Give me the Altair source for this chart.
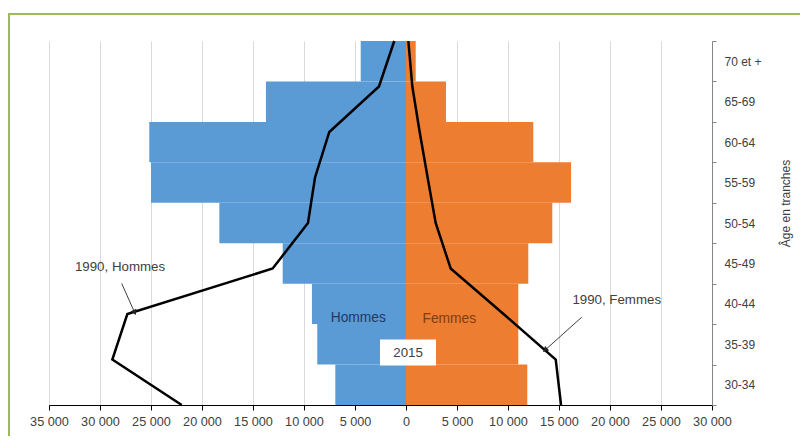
import altair as alt
import pandas as pd

# ---- data ----
ages = ["30-34", "35-39", "40-44", "45-49", "50-54", "55-59", "60-64", "65-69", "70 et +"]
hommes_2015 = [6930, 8700, 9220, 12090, 18300, 25000, 25170, 13730, 4440]
femmes_2015 = [11890, 11010, 11010, 11990, 14340, 16180, 12480, 3920, 950]
hommes_1990 = [21990, 28790, 27320, 13070, 9610, 8920, 7520, 2650, 1150]
femmes_1990 = [15200, 14680, 9560, 4380, 2910, 2120, 1340, 620, 230]
x_ticks = list(range(-35000, 30001, 5000))

FONT = "Liberation Sans, Arial, sans-serif"
ages_top = list(reversed(ages))

bars_df = pd.DataFrame({
    "age": ages * 2,
    "sexe": ["Hommes"] * len(ages) + ["Femmes"] * len(ages),
    "debut": [-v for v in hommes_2015] + [0] * len(ages),
    "fin": [0] * len(ages) + femmes_2015,
})

lines_df = pd.DataFrame({
    "age": ages * 2,
    "idx": list(range(len(ages))) * 2,
    "serie": ["1990, Hommes"] * len(ages) + ["1990, Femmes"] * len(ages),
    "valeur": [-v for v in hommes_1990] + femmes_1990,
})

# annotations, y in age-step units (0 = 30-34, 8 = 70 et +)
texts_df = pd.DataFrame({
    "t": ["1990, Hommes", "1990, Femmes", "Hommes", "Femmes", "2015"],
    "x": [-28040, 20660, -4680, 4250, 200],
    "u": [3.04, 2.31, 1.91, 1.88, 1.15],
    "c": ["#404040", "#404040", "#1F3864", "#843C0C", "#404040"],
    "s": [13.3, 13.3, 13.8, 13.8, 13.3],
})
arrows_df = pd.DataFrame({
    "x": [-27870, 17230], "u": [2.67, 1.93],
    "x2": [-26640, 13700], "u2": [2.05, 1.22],
    "a": [156, 228],
})
box_df = pd.DataFrame({"x": [-2550], "x2": [2940], "u": [1.44], "u2": [0.87]})

x_axis = alt.Axis(
    values=x_ticks,
    labelExpr="replace(format(abs(datum.value), ','), ',', ' ')",
    labelOverlap=False, labelFlush=False,
    grid=True, gridColor="#D9D9D9", gridWidth=1,
    domainColor="#000000", domainWidth=1.2,
    tickColor="#000000", tickSize=5,
    labelColor="#404040", labelFont=FONT, labelFontSize=12.7, labelPadding=5,
    title=None,
)
x_scale = alt.Scale(domain=[-35000, 30000], nice=False, zero=False)
u_scale = alt.Scale(domain=[0, 8], nice=False, zero=False)

border = alt.Chart(alt.Data(values=[{}])).mark_rect(
    fillOpacity=0, stroke="#9BBB59", strokeWidth=2
).encode(
    x=alt.value(-40), x2=alt.value(780), y=alt.value(-27), y2=alt.value(430)
)

bars = alt.Chart(bars_df).mark_bar().encode(
    x=alt.X("debut:Q", scale=x_scale, axis=x_axis),
    x2="fin:Q",
    y=alt.Y("age:N", sort=ages_top,
            scale=alt.Scale(domain=ages_top, paddingInner=0, paddingOuter=0),
            axis=alt.Axis(orient="right", title="Âge en tranches",
                          titleAngle=270, titleX=73, titleY=162,
                          titleAlign="center", titleBaseline="middle",
                          titleFont=FONT, titleFontSize=12, titleFontWeight="normal",
                          titleColor="#404040",
                          labelAlign="left", labelPadding=8, labelFont=FONT,
                          labelFontSize=12, labelColor="#404040",
                          tickSize=4, tickBand="extent",
                          domainColor="#868686", tickColor="#868686")),
    color=alt.Color("sexe:N", scale=alt.Scale(domain=["Hommes", "Femmes"],
                                              range=["#5B9BD5", "#ED7D31"]),
                    legend=None),
)

lines = alt.Chart(lines_df).mark_line(color="black", strokeWidth=2.5).encode(
    x=alt.X("valeur:Q", scale=x_scale, axis=x_axis),
    y=alt.Y("age:N", sort=ages_top,
            scale=alt.Scale(type="point", domain=ages_top, padding=0), axis=None),
    detail="serie:N",
    order="idx:Q",
)

box = alt.Chart(box_df).mark_rect(color="white").encode(
    x=alt.X("x:Q", scale=x_scale, axis=x_axis), x2="x2:Q",
    y=alt.Y("u:Q", scale=u_scale, axis=None), y2="u2:Q",
)
texts = alt.Chart(texts_df).mark_text(font=FONT, baseline="middle", align="center").encode(
    x=alt.X("x:Q", scale=x_scale, axis=x_axis),
    y=alt.Y("u:Q", scale=u_scale, axis=None),
    text="t:N",
    color=alt.Color("c:N", scale=None),
    size=alt.Size("s:Q", scale=None),
)
rules = alt.Chart(arrows_df).mark_rule(color="#404040", strokeWidth=1).encode(
    x=alt.X("x:Q", scale=x_scale, axis=x_axis), x2="x2:Q",
    y=alt.Y("u:Q", scale=u_scale, axis=None), y2="u2:Q",
)
heads = alt.Chart(arrows_df).mark_point(shape="triangle", filled=True, size=40,
                                        color="#202020", opacity=1).encode(
    x=alt.X("x2:Q", scale=x_scale, axis=x_axis),
    y=alt.Y("u2:Q", scale=u_scale, axis=None),
    angle=alt.Angle("a:Q", scale=None),
)
annot = alt.layer(box, texts, rules, heads)

chart = alt.layer(border, bars, lines, annot).resolve_scale(
    y="independent"
).properties(
    width=663, height=364,
    autosize=alt.AutoSizeParams(type="none"),
    padding={"left": 41, "top": 33, "right": 88, "bottom": 31},
).configure_view(stroke=None)

chart.save("out.html", embed_options={"renderer": "svg", "actions": False})
